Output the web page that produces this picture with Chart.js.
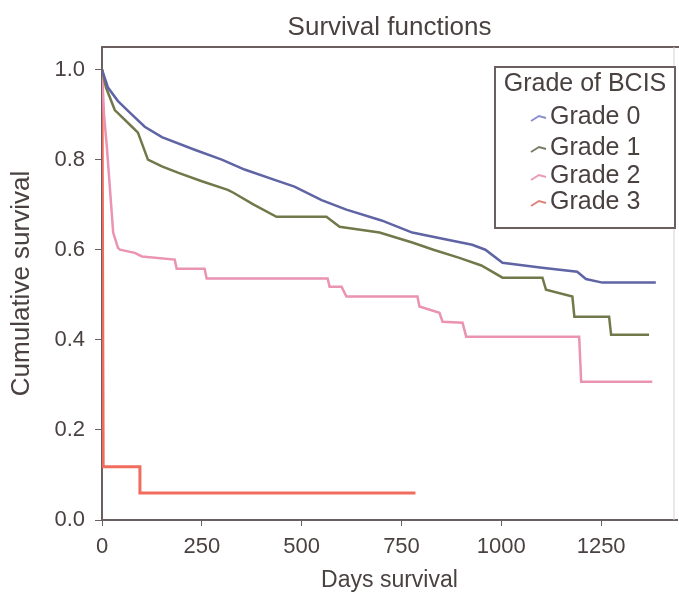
<!DOCTYPE html>
<html lang="en">

<head>
    <meta charset="UTF-8">
    <title>Survival functions</title>
    <script src="https://cdn.jsdelivr.net/npm/chart.js"></script>
    <style>
        body { margin: 0; background: #fff; }
        #wrap { width: 679px; height: 600px; }
    </style>
</head>

<body>
    <div id="wrap"><canvas id="kmChart"></canvas></div>

    <script>
        // values (days, cumulative survival)
        const grade0Days = [0, 15, 40, 75, 107, 150, 232, 300, 357, 445, 482, 550, 612, 700, 777, 850, 927, 960, 1003, 1102, 1190, 1212, 1253, 1387];
        const grade0Surv = [1.0, 0.96, 0.93, 0.90, 0.873, 0.85, 0.822, 0.80, 0.778, 0.751, 0.74, 0.71, 0.689, 0.665, 0.638, 0.625, 0.611, 0.60, 0.571, 0.56, 0.551, 0.535, 0.527, 0.527];

        const grade1Days = [0, 10, 32, 75, 90, 115, 150, 190, 250, 315, 328, 380, 437, 562, 595, 612, 695, 777, 830, 895, 950, 1003, 1103, 1112, 1178, 1183, 1270, 1275, 1370];
        const grade1Surv = [1.0, 0.96, 0.91, 0.873, 0.86, 0.80, 0.785, 0.771, 0.752, 0.733, 0.727, 0.70, 0.673, 0.673, 0.651, 0.649, 0.638, 0.616, 0.60, 0.582, 0.565, 0.538, 0.538, 0.511, 0.496, 0.451, 0.451, 0.411, 0.411];

        const grade2Days = [0, 5, 12, 28, 40, 45, 82, 100, 182, 187, 257, 262, 565, 570, 600, 612, 790, 795, 845, 853, 903, 912, 1195, 1200, 1378];
        const grade2Surv = [1.0, 0.90, 0.83, 0.638, 0.604, 0.60, 0.593, 0.585, 0.578, 0.558, 0.558, 0.536, 0.536, 0.518, 0.518, 0.496, 0.496, 0.474, 0.46, 0.44, 0.438, 0.407, 0.407, 0.307, 0.307];

        const grade3Days = [0, 3, 95, 95, 785];
        const grade3Surv = [1.0, 0.118, 0.118, 0.06, 0.06];

        const gradeLabels = ['Grade 0', 'Grade 1', 'Grade 2', 'Grade 3'];
        const xTickValues = [0, 250, 500, 750, 1000, 1250];
        const yTickValues = [0, 0.2, 0.4, 0.6, 0.8, 1.0];

        const colors = ['#5e64a4', '#72784a', '#ea93b2', '#f06c5c'];
        const legendIconColors = ['#8a90cc', '#7a7a66', '#e89ab6', '#e0827a'];
        const textColor = '#4a4141';
        const axisColor = '#6b5f5f';
        const family = "'Liberation Sans', Arial, sans-serif";

        function toPoints(days, surv) {
            return days.map((d, i) => ({ x: d, y: surv[i] }));
        }

        const series = [
            toPoints(grade0Days, grade0Surv),
            toPoints(grade1Days, grade1Surv),
            toPoints(grade2Days, grade2Surv),
            toPoints(grade3Days, grade3Surv)
        ];

        // title over the plot, plot frame (top + right) and the "Grade of BCIS" legend box
        const framePlugin = {
            id: 'frameAndLegend',
            afterDraw(chart) {
                const ctx = chart.ctx;
                const a = chart.chartArea;
                ctx.save();
                ctx.fillStyle = textColor;
                ctx.textAlign = 'center';
                ctx.textBaseline = 'middle';
                ctx.font = '26px ' + family;
                ctx.fillText('Survival functions', (a.left + a.right) / 2, 28);

                ctx.strokeStyle = axisColor;
                ctx.lineWidth = 2;
                ctx.beginPath();
                ctx.moveTo(a.left, a.top);
                ctx.lineTo(a.right + 2, a.top);
                ctx.stroke();
                ctx.strokeStyle = '#d6d2d2';
                ctx.lineWidth = 1;
                ctx.beginPath();
                ctx.moveTo(a.right - 3, a.top);
                ctx.lineTo(a.right - 3, a.bottom);
                ctx.stroke();

                // legend box
                const bx = a.right - 182, by = a.top + 20, bw = 180, bh = 161;
                ctx.fillStyle = '#fff';
                ctx.fillRect(bx, by, bw, bh);
                ctx.strokeStyle = axisColor;
                ctx.lineWidth = 2;
                ctx.strokeRect(bx, by, bw, bh);
                ctx.fillStyle = textColor;
                ctx.textAlign = 'center';
                ctx.font = '25px ' + family;
                ctx.fillText('Grade of BCIS', bx + bw / 2, by + 17);
                ctx.textAlign = 'left';
                const rows = [50, 81, 109, 135];
                chart.data.datasets.forEach((ds, i) => {
                    const ry = by + rows[i];
                    ctx.strokeStyle = legendIconColors[i];
                    ctx.lineWidth = 2;
                    ctx.beginPath();
                    ctx.moveTo(bx + 36, ry + 4);
                    ctx.lineTo(bx + 44, ry - 1);
                    ctx.lineTo(bx + 51, ry + 1);
                    ctx.stroke();
                    ctx.fillStyle = textColor;
                    ctx.fillText(ds.label, bx + 55, ry);
                });
                ctx.restore();
            }
        };

        const ctx = document.getElementById('kmChart').getContext('2d');
        const kmChart = new Chart(ctx, {
            type: 'line',
            data: {
                datasets: series.map((pts, i) => ({
                    label: gradeLabels[i],
                    data: pts,
                    borderColor: colors[i],
                    backgroundColor: colors[i],
                    borderWidth: i === 3 ? 3 : 2.5,
                    pointRadius: 0,
                    tension: 0,
                    fill: false
                }))
            },
            options: {
                responsive: true,
                maintainAspectRatio: false,
                animation: false,
                layout: { padding: { left: 0, right: 2, top: 47, bottom: 0 } },
                plugins: {
                    legend: { display: false },
                    tooltip: { enabled: false },
                    title: { display: false }
                },
                scales: {
                    x: {
                        type: 'linear',
                        min: 0,
                        max: 1440,
                        afterBuildTicks(scale) {
                            scale.ticks = xTickValues.map(v => ({ value: v }));
                        },
                        afterFit(scale) { scale.height = 80; },
                        ticks: {
                            color: textColor,
                            font: { family: family, size: 22 },
                            padding: 8,
                            maxRotation: 0,
                            callback: v => String(v)
                        },
                        grid: { drawOnChartArea: false, drawTicks: true, tickLength: 6, color: axisColor },
                        border: { display: true, color: axisColor, width: 2 },
                        title: {
                            display: true,
                            text: 'Days survival',
                            color: textColor,
                            font: { family: family, size: 23 },
                            padding: { top: 0, bottom: 6 }
                        }
                    },
                    y: {
                        min: 0,
                        max: 1.05,
                        afterBuildTicks(scale) {
                            scale.ticks = yTickValues.map(v => ({ value: v }));
                        },
                        afterFit(scale) { scale.width = 102; },
                        ticks: {
                            color: textColor,
                            font: { family: family, size: 22 },
                            padding: 10,
                            callback: v => Number(v).toFixed(1)
                        },
                        grid: { drawOnChartArea: false, drawTicks: true, tickLength: 7, color: axisColor },
                        border: { display: true, color: axisColor, width: 2 },
                        title: {
                            display: true,
                            text: 'Cumulative survival',
                            color: textColor,
                            font: { family: family, size: 26 },
                            padding: { top: 6, bottom: 0 }
                        }
                    }
                }
            },
            plugins: [framePlugin]
        });
    </script>
</body>

</html>
